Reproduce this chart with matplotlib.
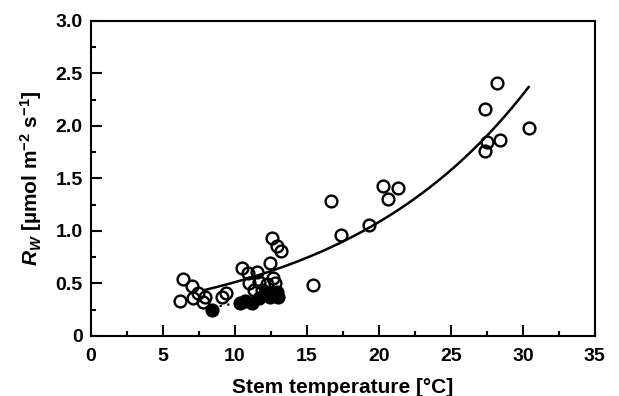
import numpy as np
import matplotlib
matplotlib.use("Agg")
import matplotlib.pyplot as plt
from matplotlib.ticker import MultipleLocator

plt.rcParams['font.family'] = ['Liberation Sans', 'DejaVu Sans']
plt.rcParams['font.weight'] = 'bold'
plt.rcParams['mathtext.fontset'] = 'custom'
plt.rcParams['mathtext.rm'] = 'Liberation Sans:bold'
plt.rcParams['mathtext.it'] = 'Liberation Sans:bold:italic'
plt.rcParams['mathtext.bf'] = 'Liberation Sans:bold'

# Open circles (stem temperature, R_W)
open_x = [6.2, 6.4, 7.0, 7.1, 7.4, 7.8, 7.9, 9.1, 9.4,
          10.5, 10.9, 11.5, 12.4, 12.65, 11.0, 11.7, 12.2, 12.8, 11.3, 11.9,
          12.6, 12.9, 13.2, 15.4, 16.7, 17.4, 19.3, 20.3, 20.6, 21.3,
          27.4, 27.5, 27.4, 28.4, 28.2, 30.4]
open_y = [0.33, 0.54, 0.47, 0.36, 0.41, 0.32, 0.37, 0.37, 0.41,
          0.65, 0.60, 0.61, 0.69, 0.55, 0.50, 0.51, 0.49, 0.50, 0.44, 0.44,
          0.93, 0.86, 0.81, 0.48, 1.28, 0.96, 1.06, 1.43, 1.30, 1.41,
          2.16, 1.85, 1.76, 1.87, 2.41, 1.98]

# Filled circles
filled_x = [8.4, 10.35, 10.7, 11.15, 11.7, 12.2, 12.4, 12.9, 13.0]
filled_y = [0.25, 0.31, 0.33, 0.31, 0.36, 0.42, 0.37, 0.42, 0.37]

# Exponential fit for open circles: R = a * exp(b * T)
fit_a, fit_b = 0.241, 0.0752
fit_range = (7.8, 30.4)
# Dotted linear fit for filled circles
dot_range = (8.4, 13.0)
dot_y = (0.27, 0.38)

xticks = [0, 5, 10, 15, 20, 25, 30, 35]
xtick_labels = ['0', '5', '10', '15', '20', '25', '30', '35']
yticks = [0, 0.5, 1.0, 1.5, 2.0, 2.5, 3.0]
ytick_labels = ['0', '0.5', '1.0', '1.5', '2.0', '2.5', '3.0']

fig = plt.figure(figsize=(6.19, 3.96), dpi=100)
ax = fig.add_axes([0.147, 0.152, 0.814, 0.795])

t = np.linspace(fit_range[0], fit_range[1], 200)
ax.plot(t, fit_a * np.exp(fit_b * t), color='black', lw=1.8, zorder=2)
ax.plot(dot_range, dot_y, color='black', lw=1.6, ls=(0, (1, 2.5)), zorder=1)

ax.plot(open_x, open_y, 'o', ms=8.5, mfc='none', mec='black', mew=1.7,
        ls='none', zorder=3)
ax.plot(filled_x, filled_y, 'o', ms=8.5, mfc='black', mec='black', mew=1.7,
        ls='none', zorder=4)

ax.set_xlim(0, 35)
ax.set_ylim(0, 3.0)
ax.set_xticks(xticks)
ax.set_xticklabels(xtick_labels)
ax.set_yticks(yticks)
ax.set_yticklabels(ytick_labels)
ax.xaxis.set_minor_locator(MultipleLocator(2.5))
ax.yaxis.set_minor_locator(MultipleLocator(0.25))
ax.tick_params(which='major', direction='in', length=8, width=1.5,
               labelsize=14)
ax.tick_params(axis='x', which='major', pad=9)
ax.tick_params(axis='y', which='major', pad=6)
ax.tick_params(which='minor', direction='in', length=3.5, width=1.5)
for s in ax.spines.values():
    s.set_linewidth(1.5)

ax.set_xlabel('Stem temperature [°C]', fontsize=15, fontweight='bold',
              labelpad=9)
ax.set_ylabel(r'$R_W$ [µmol m$^{-2}$ s$^{-1}$]', fontsize=15,
              fontweight='bold', labelpad=8)

fig.savefig('out.png', dpi=100)
